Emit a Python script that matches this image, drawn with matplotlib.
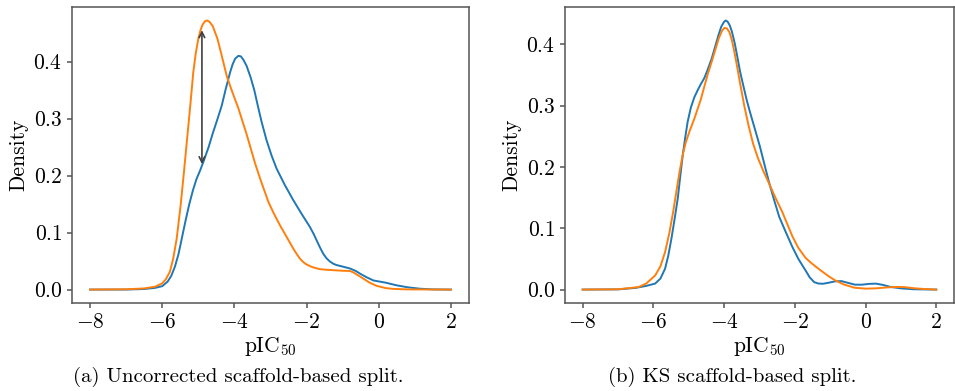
import matplotlib
matplotlib.use("Agg")
import matplotlib.pyplot as plt

plt.rcParams["font.family"] = "serif"
plt.rcParams["font.serif"] = ["cmr10"]
plt.rcParams["mathtext.fontset"] = "cm"
plt.rcParams["axes.formatter.use_mathtext"] = True

# (a) uncorrected split - blue / orange densities
a_blue_x = [-8, -7, -6.5, -6.2, -6.0, -5.85, -5.75, -5.65, -5.55, -5.45, -5.35, -5.25, -5.15,
            -5.05, -4.95, -4.86, -4.72, -4.59, -4.47, -4.35, -4.24, -4.12, -4.05, -3.98, -3.89,
            -3.82, -3.75, -3.66, -3.55, -3.45, -3.35, -3.25, -3.11, -2.97, -2.83, -2.6, -2.37,
            -2.15, -1.91, -1.8, -1.72, -1.63, -1.54, -1.45, -1.35, -1.25, -1.17, -0.98, -0.8,
            -0.65, -0.52, -0.35, -0.15, 0.2, 0.49, 0.8, 1.14, 1.5, 2.0]
a_blue_y = [0, 0, 0.001, 0.003, 0.006, 0.014, 0.024, 0.040, 0.062, 0.092, 0.122, 0.150, 0.174,
            0.194, 0.209, 0.224, 0.249, 0.276, 0.299, 0.323, 0.352, 0.381, 0.395, 0.405, 0.410,
            0.409, 0.403, 0.392, 0.372, 0.350, 0.322, 0.295, 0.262, 0.235, 0.212, 0.183, 0.157,
            0.134, 0.110, 0.097, 0.086, 0.074, 0.063, 0.055, 0.049, 0.045, 0.043, 0.040, 0.037,
            0.033, 0.028, 0.022, 0.016, 0.012, 0.0075, 0.004, 0.0015, 0.0003, 0]
a_orange_x = [-8, -7, -6.5, -6.2, -6.0, -5.9, -5.79, -5.7, -5.6, -5.49, -5.4, -5.31, -5.22, -5.14,
              -5.07, -5.0, -4.94, -4.88, -4.81, -4.75, -4.68, -4.6, -4.47, -4.35, -4.21, -4.05,
              -3.89, -3.66, -3.43, -3.29, -3.06, -2.92, -2.74, -2.55, -2.37, -2.27, -2.18, -2.09,
              -2.0, -1.9, -1.82, -1.65, -1.5, -1.26, -1.0, -0.8, -0.7, -0.6, -0.43, -0.25, -0.06,
              0.2, 0.4, 0.8, 2.0]
a_orange_y = [0, 0.0005, 0.002, 0.005, 0.011, 0.018, 0.031, 0.053, 0.089, 0.148, 0.205, 0.265,
              0.325, 0.381, 0.415, 0.44, 0.455, 0.465, 0.471, 0.472, 0.469, 0.462, 0.44, 0.41,
              0.374, 0.345, 0.318, 0.272, 0.222, 0.195, 0.154, 0.135, 0.113, 0.092, 0.072, 0.062,
              0.054, 0.048, 0.044, 0.041, 0.039, 0.036, 0.035, 0.034, 0.033, 0.0326, 0.030, 0.026,
              0.0193, 0.012, 0.0065, 0.0025, 0.0012, 0.0003, 0]

# (b) KS split
b_blue_x = [-8, -7, -6.51, -6.2, -5.95, -5.8, -5.67, -5.58, -5.49, -5.4, -5.31, -5.24, -5.17,
            -5.1, -5.03, -4.94, -4.84, -4.75, -4.66, -4.56, -4.47, -4.35, -4.24, -4.16, -4.08,
            -4.0, -3.95, -3.9, -3.84, -3.78, -3.7, -3.62, -3.55, -3.45, -3.36, -3.27, -3.13,
            -2.99, -2.85, -2.72, -2.58, -2.44, -2.25, -2.07, -1.9, -1.7, -1.58, -1.45, -1.33,
            -1.2, -1.06, -0.85, -0.68, -0.5, -0.3, -0.1, 0.1, 0.3, 0.5, 0.705, 1.0, 1.36, 2.0]
b_blue_y = [0, 0.0003, 0.0027, 0.006, 0.0098, 0.018, 0.034, 0.055, 0.083, 0.115, 0.149, 0.185,
            0.219, 0.248, 0.274, 0.297, 0.314, 0.325, 0.335, 0.345, 0.358, 0.377, 0.399, 0.415,
            0.429, 0.437, 0.439, 0.437, 0.431, 0.421, 0.402, 0.378, 0.356, 0.331, 0.309, 0.29,
            0.262, 0.234, 0.202, 0.173, 0.145, 0.1185, 0.093, 0.0696, 0.050, 0.0315, 0.020,
            0.012, 0.0098, 0.0095, 0.011, 0.0135, 0.0138, 0.011, 0.008, 0.008, 0.0093, 0.0097,
            0.0075, 0.0043, 0.002, 0.0005, 0]
b_orange_x = [-8, -7, -6.42, -6.2, -5.95, -5.8, -5.67, -5.55, -5.44, -5.35, -5.26, -5.17, -5.08,
              -4.96, -4.84, -4.66, -4.47, -4.35, -4.24, -4.15, -4.06, -3.99, -3.92, -3.85, -3.78,
              -3.7, -3.62, -3.55, -3.43, -3.31, -3.18, -3.04, -2.88, -2.72, -2.55, -2.35, -2.2,
              -2.07, -1.9, -1.7, -1.55, -1.42, -1.24, -1.05, -0.86, -0.6, -0.31, 0.0, 0.3, 0.6,
              0.9, 1.1, 1.4, 1.64, 2.0]
b_orange_y = [0, 0.0005, 0.004, 0.010, 0.023, 0.038, 0.061, 0.092, 0.127, 0.160, 0.192, 0.220,
              0.241, 0.261, 0.279, 0.31, 0.350, 0.372, 0.393, 0.410, 0.422, 0.427, 0.426, 0.420,
              0.407, 0.385, 0.360, 0.337, 0.300, 0.268, 0.238, 0.214, 0.192, 0.172, 0.150, 0.126,
              0.105, 0.087, 0.068, 0.052, 0.044, 0.038, 0.030, 0.022, 0.015, 0.008, 0.003, 0.0015,
              0.002, 0.0035, 0.0043, 0.004, 0.002, 0.001, 0]

arrow_x = -4.9
arrow_lo = 0.22
arrow_hi = 0.455

captions = ["(a) Uncorrected scaffold-based split.", "(b) KS scaffold-based split."]

fig = plt.figure(figsize=(9.55, 3.91), dpi=100)
ax1 = fig.add_axes([0.0754, 0.225, 0.4157, 0.757])
ax2 = fig.add_axes([0.5916, 0.225, 0.4073, 0.757])

ax1.plot(a_blue_x, a_blue_y, color="tab:blue", lw=1.4)
ax1.plot(a_orange_x, a_orange_y, color="tab:orange", lw=1.4)
ax1.annotate("", xy=(arrow_x, arrow_hi), xytext=(arrow_x, arrow_lo),
             arrowprops=dict(arrowstyle="<->", color="0.25", lw=1.2, shrinkA=0, shrinkB=0))

ax2.plot(b_blue_x, b_blue_y, color="tab:blue", lw=1.4)
ax2.plot(b_orange_x, b_orange_y, color="tab:orange", lw=1.4)

for ax in [ax1, ax2]:
    ax.set_xticks([-8, -6, -4, -2, 0, 2])
    ax.set_yticks([0.0, 0.1, 0.2, 0.3, 0.4])
    ax.set_xlabel(r"pIC$_{50}$", fontsize=15.5, labelpad=2)
    ax.set_ylabel("Density", fontsize=15.5)
    ax.tick_params(labelsize=15.5, color="#555555", width=1.1)
    for s in ax.spines.values():
        s.set_color("#555555")
        s.set_linewidth(1.1)

fig.text(0.249, 0.036, captions[0], ha="center", va="center", fontsize=15)
fig.text(0.7665, 0.036, captions[1], ha="center", va="center", fontsize=15)

fig.savefig("out.png", dpi=100)
